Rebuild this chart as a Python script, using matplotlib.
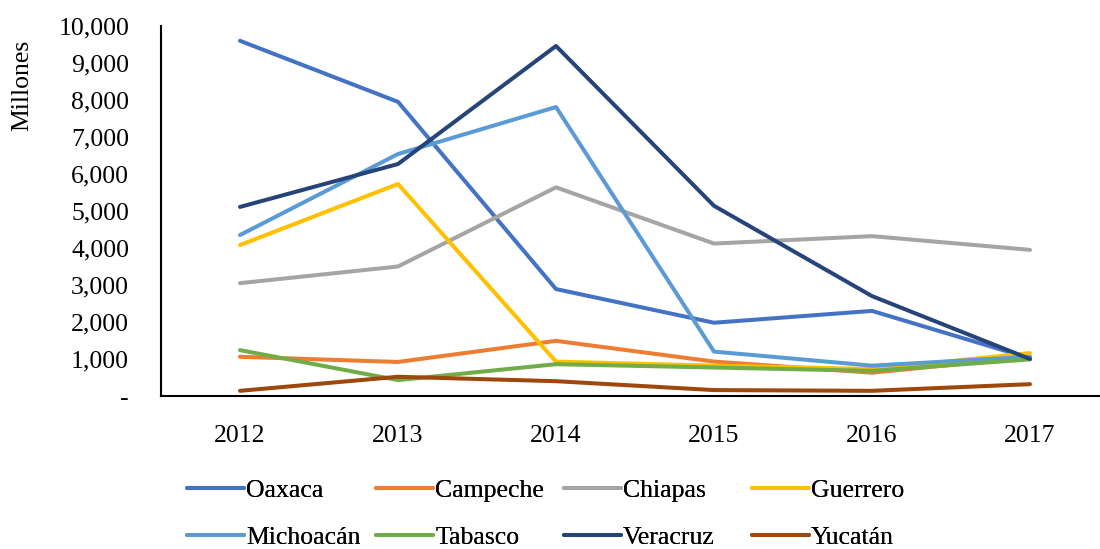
import matplotlib
matplotlib.use("Agg")
import matplotlib.pyplot as plt
from matplotlib.ticker import FuncFormatter, MultipleLocator

years = ["2012", "2013", "2014", "2015", "2016", "2017"]
oaxaca = [9600, 7950, 2890, 1980, 2300, 1020]
campeche = [1060, 920, 1490, 930, 630, 1050]
chiapas = [3050, 3500, 5640, 4120, 4320, 3950]
guerrero = [4080, 5730, 930, 820, 730, 1160]
michoacan = [4350, 6540, 7810, 1200, 820, 1060]
tabasco = [1240, 430, 860, 770, 680, 990]
veracruz = [5110, 6270, 9460, 5140, 2700, 1000]
yucatan = [140, 520, 400, 160, 140, 320]

names = ["Oaxaca", "Campeche", "Chiapas", "Guerrero",
         "Michoacán", "Tabasco", "Veracruz", "Yucatán"]
series = [oaxaca, campeche, chiapas, guerrero, michoacan, tabasco, veracruz, yucatan]
colors = ["#4472C4", "#ED7D31", "#A5A5A5", "#FFC000",
          "#5B9BD5", "#70AD47", "#264478", "#9E480E"]

plt.rcParams['font.family'] = ['Liberation Serif', 'DejaVu Serif']
FS = 18.5

fig = plt.figure(figsize=(11, 5.49), dpi=100)
W, H = 1100, 549
ax = fig.add_axes([161 / W, (H - 396) / H, (1100 - 161) / W, (396 - 26) / H])

x = list(range(len(years)))
handles = []
for name, vals, c in zip(names, series, colors):
    h, = ax.plot(x, vals, color=c, lw=2.9, label=name, solid_capstyle='round')
    handles.append(h)

ax.set_xlim(-0.5, (1100 - 161) / 158 - 0.5)
ax.set_ylim(0, 10000)
ax.yaxis.set_major_locator(MultipleLocator(1000))
ax.yaxis.set_major_formatter(FuncFormatter(lambda v, p: "-" if abs(v) < 1e-6 else f"{v:,.0f}"))
ax.set_xticks(x)
ax.set_xticklabels(years)
ax.tick_params(axis='both', length=0, labelsize=FS, colors='black')
ax.tick_params(axis='x', pad=21)
ax.tick_params(axis='y', pad=23)
for s in ['top', 'right']:
    ax.spines[s].set_visible(False)
for s in ['left', 'bottom']:
    ax.spines[s].set_linewidth(1.5)
    ax.spines[s].set_color('black')

fig.text(22 / W, 1 - 85 / H, "Millones", rotation=90, ha='center', va='center', fontsize=FS)

col_x = [187, 376, 564, 752]
for j in range(4):
    leg = fig.legend([handles[j], handles[j + 4]], [names[j], names[j + 4]],
                     loc='upper left', bbox_to_anchor=(col_x[j] / W, 1 - 479 / H),
                     frameon=False, fontsize=FS, handlelength=2.2, handletextpad=0.1,
                     labelspacing=0.95, borderpad=0, borderaxespad=0)
    fig.add_artist(leg)

fig.savefig("out.png", dpi=100)
